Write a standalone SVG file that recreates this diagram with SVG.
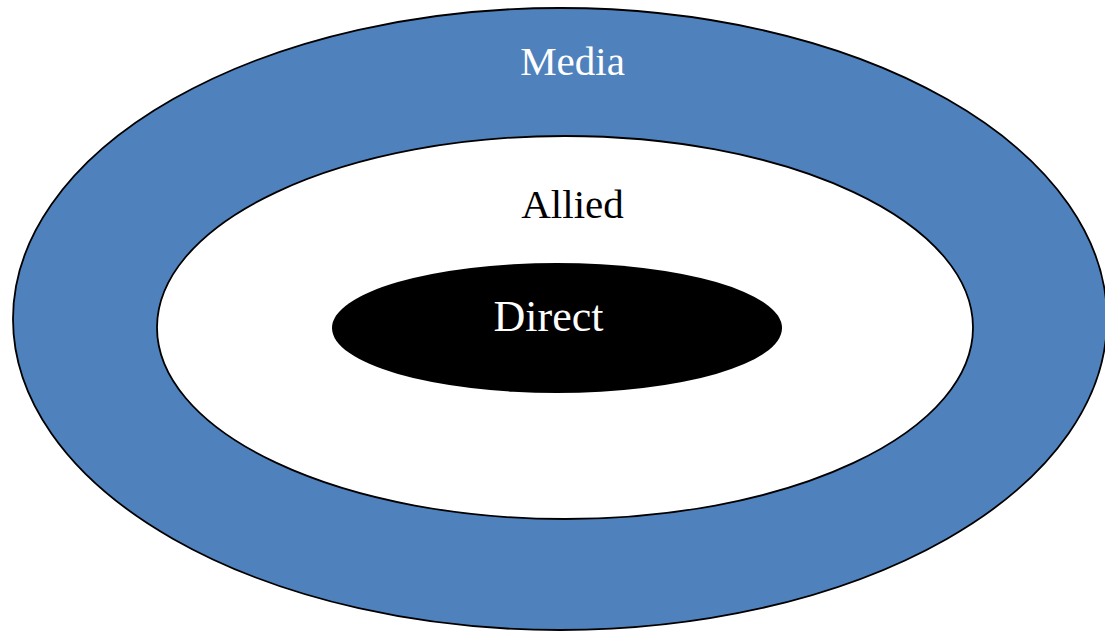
<svg xmlns="http://www.w3.org/2000/svg" width="1105" height="631" viewBox="0 0 1105 631">
<style>
.lbl{font-family:"Liberation Serif",serif;font-size:41px;text-anchor:middle}
.ring{stroke:#000;stroke-width:1.8}
</style>
<rect width="1105" height="631" fill="#fff"/>
<g id="media">
<ellipse class="ring" cx="560" cy="319" rx="547" ry="311" fill="#4f81bd"/>
<text class="lbl" x="572.5" y="75" fill="#fff">Media</text>
</g>
<g id="allied">
<ellipse class="ring" cx="565" cy="327.5" rx="408" ry="191.5" fill="#fff"/>
<text class="lbl" x="572.5" y="218" fill="#000">Allied</text>
</g>
<g id="direct">
<ellipse cx="557" cy="328" rx="225" ry="65" fill="#000"/>
<text class="lbl" x="548.5" y="331" fill="#fff" style="font-size:44px">Direct</text>
</g>
<g id="connectors"/>
</svg>
